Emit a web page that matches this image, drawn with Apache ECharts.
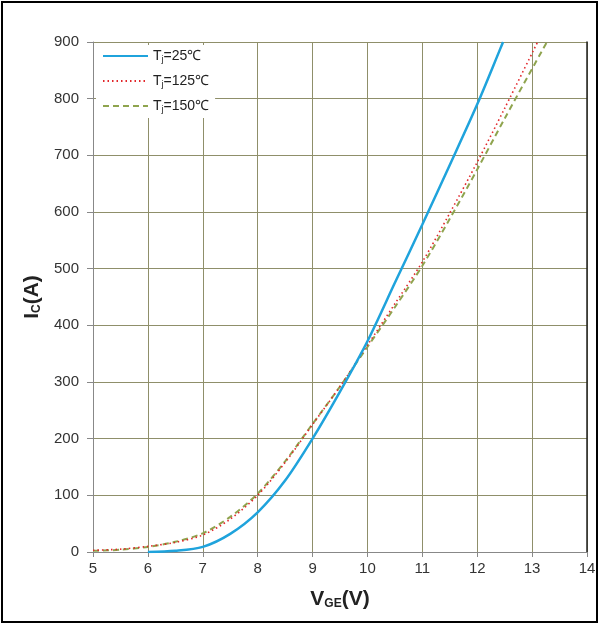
<!DOCTYPE html>
<html>
<head>
<meta charset="utf-8">
<script src="https://cdn.jsdelivr.net/npm/echarts@6/dist/echarts.min.js"></script>
<style>
html,body{margin:0;padding:0;background:#fff;}
#chart{width:600px;height:625px;}
</style>
</head>
<body>
<div id="chart"></div>
<script>
// Data (VGE in V, IC in A)
var seriesNames = ['Tj=25℃', 'Tj=125℃', 'Tj=150℃'];
var tj25 = [[6,0],[6.5,2],[7,9],[7.5,32],[8,70],[8.5,126],[9,200],[9.5,283],[10,372],[10.5,475],[11,578],[11.5,683],[12,790],[12.47,900]];
var tj125 = [[5,3],[5.5,5],[6,10],[6.5,17],[7,30],[7.5,58],[8,100],[8.5,158],[9,225],[9.5,292],[10,365],[10.5,438],[11,512],[11.5,598],[12,688],[12.5,783],[13.1,900]];
var tj150 = [[5,2],[5.5,4],[6,9],[6.5,18],[7,33],[7.5,62],[8,103],[8.5,160],[9,226],[9.5,292],[10,362],[10.5,432],[11,505],[11.5,588],[12,675],[12.5,765],[13.27,900]];
var xMin = 5, xMax = 14, xStep = 1;
var yMin = 0, yMax = 900, yStep = 100;

var chart = echarts.init(document.getElementById('chart'), null, {renderer:'canvas'});
var font = 'Liberation Sans, Arial, sans-serif';
var gridColor = '#8f8f6a';

function legendFmt(name){
  var rest = name.substring(2);
  return '{a|T}{s|j}{a|' + rest + '}';
}

chart.setOption({
  backgroundColor: '#fff',
  animation: false,
  graphic: [{
    type: 'rect', z: 100, silent: true,
    shape: {x: 2, y: 2, width: 595, height: 620},
    style: {fill: 'none', stroke: '#000', lineWidth: 2}
  }],
  grid: {left: 93, right: 13, top: 42, bottom: 73, containLabel: false},
  legend: {
    orient: 'vertical', left: 96, top: 45,
    backgroundColor: '#fff', padding: [4, 6, 4, 6],
    itemWidth: 45, itemHeight: 10, itemGap: 10,
    itemStyle: {opacity: 0},
    data: seriesNames,
    formatter: legendFmt,
    textStyle: {
      fontFamily: font, color: '#222',
      rich: {
        a: {fontSize: 14, fontFamily: font, color: '#222'},
        s: {fontSize: 9, fontFamily: font, color: '#222', verticalAlign: 'bottom', padding: [7, 0, 0, 0]}
      }
    }
  },
  xAxis: {
    type: 'value', min: xMin, max: xMax, interval: xStep,
    name: '{b|V}{s|GE}{b|(V)}', nameLocation: 'middle', nameGap: 36,
    nameTextStyle: {
      rich: {
        b: {fontSize: 21, fontWeight: 'bold', fontFamily: font, color: '#222'},
        s: {fontSize: 12, fontWeight: 'bold', fontFamily: font, color: '#222', padding: [10, 0, 0, 0]}
      }
    },
    axisLine: {show: true, onZero: false, lineStyle: {color: '#888', width: 1}},
    axisTick: {show: true, length: 5, lineStyle: {color: '#888'}},
    axisLabel: {fontSize: 15, fontFamily: font, color: '#333', margin: 9},
    splitLine: {show: true, lineStyle: {color: gridColor, width: 1}}
  },
  yAxis: [{
    type: 'value', min: yMin, max: yMax, interval: yStep,
    name: '{b|I}{s|C}{b|(A)}', nameLocation: 'middle', nameGap: 50, nameRotate: 90,
    nameTextStyle: {
      rich: {
        b: {fontSize: 21, fontWeight: 'bold', fontFamily: font, color: '#222'},
        s: {fontSize: 12, fontWeight: 'bold', fontFamily: font, color: '#222', padding: [10, 0, 0, 0]}
      }
    },
    axisLine: {show: true, onZero: false, lineStyle: {color: '#888', width: 1}},
    axisTick: {show: true, length: 6, lineStyle: {color: '#888'}},
    axisLabel: {fontSize: 15, fontFamily: font, color: '#333', margin: 14},
    splitLine: {show: true, lineStyle: {color: gridColor, width: 1}}
  }, {
    type: 'value', min: yMin, max: yMax, interval: yStep, position: 'right',
    axisLine: {show: true, lineStyle: {color: '#222', width: 1.5}},
    axisTick: {show: false}, axisLabel: {show: false}, splitLine: {show: false}
  }],
  series: [{
    name: seriesNames[0], type: 'line', data: tj25, smooth: 0.3, symbol: 'none', z: 5,
    lineStyle: {color: '#1fa3dc', width: 2.5, type: 'solid'},
    itemStyle: {color: '#1fa3dc'}
  }, {
    name: seriesNames[1], type: 'line', data: tj125, smooth: 0.3, symbol: 'none', z: 4,
    lineStyle: {color: '#e2262a', width: 1.6, type: [1.5, 3]},
    itemStyle: {color: '#e2262a'}
  }, {
    name: seriesNames[2], type: 'line', data: tj150, smooth: 0.3, symbol: 'none', z: 3,
    lineStyle: {color: '#8fa44e', width: 2, type: [6, 4]},
    itemStyle: {color: '#8fa44e'}
  }]
});
</script>
</body>
</html>
